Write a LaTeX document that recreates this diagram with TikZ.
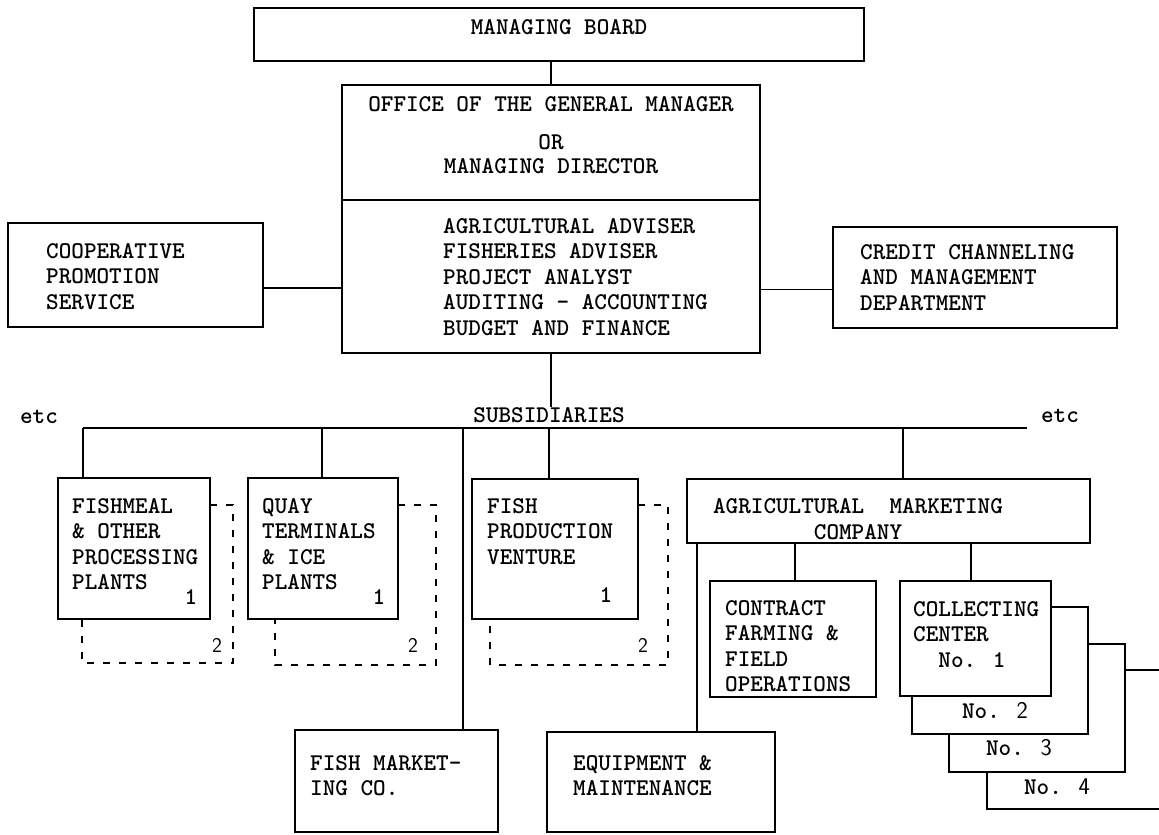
\documentclass[tikz,border=0pt]{standalone}
\usepackage{tikz}
\usetikzlibrary{fit,positioning}

\begin{document}
\begin{tikzpicture}[x=1pt,y=-1pt,
	box/.style={draw,line width=1.5pt,fill=white,inner sep=0pt},
	conn/.style={line width=1.5pt},
	shadow/.style={line width=1.1pt,dash pattern=on 7pt off 9pt},
	tt/.style={font=\ttfamily\bfseries\fontsize{24}{25.5}\selectfont},
	txt/.style={tt,inner sep=0pt,align=left,anchor=north west},
	num/.style={font=\sffamily\fontsize{21}{24}\selectfont,inner sep=0pt}]
	\useasboundingbox (0,0) rectangle (1159,835);
	\fill[white] (0,0) rectangle (1159,835);
	\clip (0,0) rectangle (1159,835);

	% top of the chart
	\node[box,tt,fit={(254,8) (864,61)}] (board) {MANAGING BOARD};
	\node[box,tt,align=center,fit={(342,85) (760,200)}] (gm) {OFFICE OF THE GENERAL MANAGER\\[13pt]OR\\[-2pt]MANAGING DIRECTOR};
	\node[box,fit={(342,200) (760,353)}] (staff) {};
	\node[txt] (staffT) at (443,218) {AGRICULTURAL ADVISER\\FISHERIES ADVISER\\PROJECT ANALYST\\AUDITING - ACCOUNTING\\BUDGET AND FINANCE};
	\node[box,fit={(8,223) (263,327)}] (coop) {};
	\node[txt] (coopT) at (46,243) {COOPERATIVE\\PROMOTION\\SERVICE};
	\node[box,fit={(833,227) (1117,328)}] (credit) {};
	\node[txt] (creditT) at (860,244) {CREDIT CHANNELING\\AND MANAGEMENT\\DEPARTMENT};

	\draw[conn] (gm.north) -- (gm.north |- board.south);
	\draw[conn] ([yshift=-13pt]coop.east) -- ([yshift=-13pt]coop.east -| staff.west);
	\draw[conn] ([yshift=-12pt]credit.west) -- ([yshift=-12pt]credit.west -| staff.east);

	% subsidiaries
	\node[tt,inner sep=0pt] (subs) at (549,415) {SUBSIDIARIES};
	\node[tt,inner sep=0pt] (etcL) at (39,417) {etc};
	\node[tt,inner sep=0pt] (etcR) at (1060,416) {etc};
	\draw[conn] (staff.south) -- (staff.south |- subs.north);
	\coordinate (b1) at (83,428);
	\coordinate (b2) at (322,428);
	\coordinate (b3) at (463,428);
	\coordinate (b4) at (549,428);
	\coordinate (b5) at (903,428);
	\coordinate (b6) at (1027,428);
	\draw[conn] (b1) -- (b6);

	\draw[shadow] (210,505) -- (233,505) -- (233,663) -- (82,663) -- (82,619);
	\draw[shadow] (398,505) -- (436,505) -- (436,665) -- (275,665) -- (275,619);
	\draw[shadow] (638,505) -- (668,505) -- (668,665) -- (490,665) -- (490,619);

	\node[box,fit={(58,478) (210,619)}] (fishmeal) {};
	\node[txt] (fishmealT) at (72,498) {FISHMEAL\\\& OTHER\\PROCESSING\\PLANTS};
	\node[box,fit={(248,478) (398,619)}] (quay) {};
	\node[txt] (quayT) at (262,498) {QUAY\\TERMINALS\\\& ICE\\PLANTS};
	\node[box,fit={(472,479) (638,619)}] (fishprod) {};
	\node[txt] (fishprodT) at (487,498) {FISH\\PRODUCTION\\VENTURE};
	\node[tt,inner sep=0pt] (n1a) at (191,597) {1};
	\node[tt,inner sep=0pt] (n1b) at (379,597) {1};
	\node[tt,inner sep=0pt] (n1c) at (606,595) {1};
	\node[num] (n2a) at (217,645) {2};
	\node[num] (n2b) at (413,645) {2};
	\node[num] (n2c) at (643,645) {2};

	\node[box,fit={(295,730) (498,832)}] (fishmkt) {};
	\node[txt] (fishmktT) at (310,755) {FISH MARKET-\\ING CO.};
	\node[box,fit={(547,732) (775,832)}] (equip) {};
	\node[txt] (equipT) at (573,755) {EQUIPMENT \&\\MAINTENANCE};

	\draw[conn] (b1) -- (b1 |- fishmeal.north);
	\draw[conn] (b2) -- (b2 |- quay.north);
	\draw[conn] (b3) -- (b3 |- fishmkt.north);
	\draw[conn] (b4) -- (b4 |- fishprod.north);
	\draw[conn] (b5) -- (b5 |- 0,479);

	% marketing company
	\node[box,fit={(687,479) (1090,543)}] (agri) {};
	\node[tt,align=center,inner sep=0pt] (agriT) at (858,519) {AGRICULTURAL~~MARKETING\\COMPANY};
	\node[box,fit={(710,581) (876,697)}] (contract) {};
	\node[txt] (contractT) at (725,600) {CONTRACT\\FARMING \&\\FIELD\\OPERATIONS};
	\node[box,fit={(987,670) (1180,809)}] (collect4) {};
	\node[box,fit={(949,644) (1125,772)}] (collect3) {};
	\node[box,fit={(912,607) (1088,734)}] (collect2) {};
	\node[box,fit={(900,581) (1051,696)}] (collect) {};
	\node[txt] (collectT) at (913,601) {COLLECTING\\CENTER\\~~No. 1};
	\node[tt,inner sep=0pt] (no2) at (995,710) {No. {\sffamily\mdseries 2}};
	\node[tt,inner sep=0pt] (no3) at (1019,748) {No. {\sffamily\mdseries 3}};
	\node[tt,inner sep=0pt] (no4) at (1057,787) {No. {\sffamily\mdseries 4}};

	\coordinate (a1) at (697,543);
	\coordinate (a2) at (795,543);
	\coordinate (a3) at (971,543);
	\draw[conn] (a1) -- (a1 |- equip.north);
	\draw[conn] (a2) -- (a2 |- contract.north);
	\draw[conn] (a3) -- (a3 |- collect.north);

\end{tikzpicture}
\end{document}
